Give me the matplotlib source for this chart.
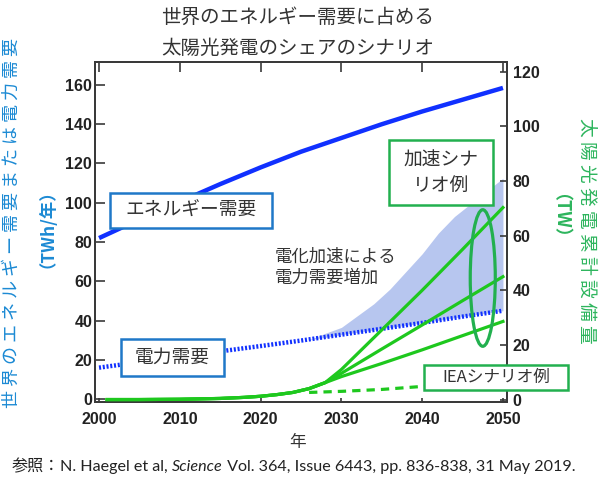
import matplotlib
matplotlib.use("Agg")
import matplotlib.pyplot as plt
from matplotlib.patches import Rectangle, Ellipse

# ---------------- data ----------------
years_energy = [2000, 2005, 2010, 2015, 2020, 2025, 2030, 2035, 2040, 2045, 2050]
energy_demand = [82, 91.5, 100.5, 109.5, 118, 126, 133, 140, 146.5, 152.5, 158.5]
elec_demand = [16, 18.8, 21.5, 24.3, 27, 29.8, 32.8, 35.8, 38.8, 42, 45]

years_band = [2026, 2028, 2030, 2032, 2034, 2036, 2038, 2040, 2042, 2044, 2046, 2048, 2050]
band_lower = [30.2, 31.4, 32.8, 34, 35.2, 36.4, 37.6, 38.8, 40.1, 41.4, 42.6, 43.8, 45]
band_upper = [30.2, 33.5, 36.5, 42.5, 48.5, 56, 65, 74, 84.5, 93, 99.5, 106, 112.5]

years_pv_base = [2001, 2005, 2010, 2015, 2018, 2020, 2022, 2024, 2026, 2028]
pv_base = [0, 0, 0.1, 0.4, 0.8, 1.2, 1.8, 2.6, 4.0, 6.2]
years_pv = [2028, 2030, 2035, 2040, 2045, 2050]
pv_high = [6.2, 11, 25.5, 40, 55, 70.3]
pv_mid = [6.2, 9.6, 18.5, 27.3, 36.2, 45]
pv_low = [6.2, 8.4, 13.2, 18.2, 23.4, 28.6]
years_iea = [2026, 2030, 2035, 2040, 2045, 2050]
pv_iea = [2.6, 3.0, 3.7, 4.8, 5.8, 7.0]

left_ticks = [0, 20, 40, 60, 80, 100, 120, 140, 160]
right_ticks = [0, 20, 40, 60, 80, 100, 120]
x_ticks = [2000, 2010, 2020, 2030, 2040, 2050]

# ---------------- style ----------------
JP = ['Noto Sans CJK JP', 'DejaVu Sans']
TICKF = 'Liberation Sans'
BLUE = '#1030ff'
GREEN = '#1ec81e'
BOXGREEN = '#22b04f'
BOXBLUE = '#1f78c8'
LBLUE = '#1c8ad4'
RGREEN = '#2db55d'
BAND = '#b7c6ef'
SPINE = '#3a3a3a'
TXT = '#333333'

W, H = 600, 478
fig = plt.figure(figsize=(6, 4.78), dpi=100)


def fx(x):
    return x / W


def fy(y):
    return 1 - y / H


ax = fig.add_axes([fx(95), fy(402), fx(507) - fx(95), fy(62) - fy(402)])
ax2 = ax.twinx()

# left axis content
ax.fill_between(years_band, band_lower, band_upper, color=BAND, lw=0, zorder=1)
ax.plot(years_energy, energy_demand, color=BLUE, lw=3.2, solid_capstyle='butt', zorder=3)
ax.plot(years_energy, elec_demand, color=BLUE, lw=3.2, linestyle=(0, (0.45, 0.4)),
        dash_capstyle='butt', zorder=3)

# right axis content
for ys in (pv_high, pv_mid, pv_low):
    ax2.plot(years_pv_base + years_pv[1:], pv_base + ys[1:], color=GREEN, lw=2.3, zorder=3)
ax2.plot(years_iea, pv_iea, color=GREEN, lw=2.3, linestyle=(0, (2.6, 1.9)), zorder=3)
ax2.add_patch(Ellipse((2047.5, 44.5), 3.1, 50, fill=False, edgecolor=BOXGREEN, lw=2.3, zorder=4))

ax.set_xlim(1999.5, 2050.5)
ax.set_ylim(-1.5, 171.7)
ax2.set_ylim(-0.9, 123.6)

ax.set_xticks(x_ticks)
ax.set_yticks(left_ticks)
ax2.set_yticks(right_ticks)

for a in (ax, ax2):
    for s in a.spines.values():
        s.set_color(SPINE)
        s.set_linewidth(1.4)

ax.tick_params(axis='x', direction='in', length=3, width=1.2, color=SPINE, pad=7,
               labelsize=11.5, labelcolor='#222222')
ax.tick_params(axis='y', direction='in', length=7, width=1.2, color=SPINE, pad=2,
               labelsize=11.5, labelcolor='#222222')
ax2.tick_params(axis='y', direction='in', length=5, width=1.2, color=SPINE, pad=4,
                labelsize=11.5, labelcolor='#222222')
for lab in ax.get_xticklabels() + ax.get_yticklabels() + ax2.get_yticklabels():
    lab.set_fontfamily(TICKF)
    lab.set_fontweight('bold')

top = ax.secondary_xaxis('top')
top.set_xticks(x_ticks)
top.tick_params(direction='in', length=7, width=1.2, color=SPINE, labeltop=False)
top.spines['top'].set_color(SPINE)
top.spines['top'].set_linewidth(1.4)

# ---------------- texts ----------------
fig.text(fx(298), fy(17), '世界のエネルギー需要に占める', family=JP, fontsize=14,
         color=TXT, ha='center', va='center')
fig.text(fx(298), fy(48), '太陽光発電のシェアのシナリオ', family=JP, fontsize=14,
         color=TXT, ha='center', va='center')

fig.text(fx(12), fy(223), ' '.join('世界のエネルギー需要または電力需要'), family=JP,
         fontsize=13, color=LBLUE, rotation=90, ha='center', va='center')
fig.text(fx(39), fy(220), '（TWh/年）', family=JP, fontsize=12.5, fontweight='bold',
         color=LBLUE, rotation=90, ha='center', va='center')
fig.text(fx(587), fy(231), ' '.join('太陽光発電累計設備量'), family=JP,
         fontsize=13.5, color=RGREEN, rotation=-90, ha='center', va='center')
fig.text(fx(550), fy(225), '（TW）', family=JP, fontsize=13, fontweight='bold',
         color=RGREEN, rotation=-90, ha='center', va='center')

fig.text(fx(298), fy(443), '年', family=JP, fontsize=12, color=TXT, ha='center', va='center')

fig.text(fx(275), fy(257), '電化加速による', family=JP, fontsize=12.5, color=TXT,
         ha='left', va='center')
fig.text(fx(275), fy(278), '電力需要増加', family=JP, fontsize=12.5, color=TXT,
         ha='left', va='center')


def box(x0, y0, x1, y1, ec, label, size):
    r = Rectangle((fx(x0), fy(y1)), fx(x1) - fx(x0), fy(y0) - fy(y1), transform=fig.transFigure,
                  facecolor='white', edgecolor=ec, lw=1.8, zorder=5)
    fig.add_artist(r)
    t = fig.text(fx((x0 + x1) / 2), fy((y0 + y1) / 2), label, family=JP, fontsize=size,
                 color=TXT, ha='center', va='center', zorder=6, linespacing=1.25)
    return t


box(110, 193, 272, 228, BOXBLUE, 'エネルギー需要', 13.5)
box(121, 339, 224, 376, BOXBLUE, '電力需要', 13.5)
box(389, 140, 493, 205, BOXGREEN, '加速シナ\nリオ例', 13.5)
box(424, 365, 568, 390, BOXGREEN, 'IEAシナリオ例', 12)

# ---------------- footer ----------------
renderer = fig.canvas.get_renderer()
parts = [
    ('参照：', dict(family=JP, style='normal')),
    ('N. Haegel et al, ', dict(family=['Lato'], style='normal')),
    ('Science', dict(family=['Lato'], style='italic')),
    (' Vol. 364, Issue 6443, pp. 836-838, 31 May 2019.', dict(family=['Lato'], style='normal')),
]
x = 12
for s, kw in parts:
    t = fig.text(fx(x), fy(467), s, fontsize=11.6, color='#222222', ha='left', va='center', **kw)
    bb = t.get_window_extent(renderer=renderer)
    x += bb.width

fig.savefig('out.png', dpi=100)
